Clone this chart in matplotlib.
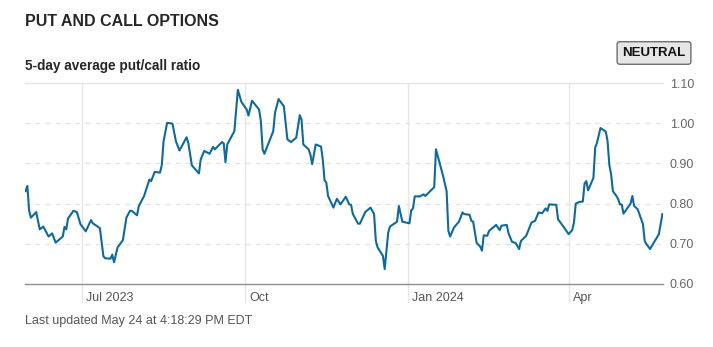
import matplotlib
matplotlib.use("Agg")
import matplotlib.pyplot as plt
import matplotlib.transforms as mtransforms
import pandas as pd

# 5-day average put/call ratio
dates = [
    "2023-05-30", "2023-05-31", "2023-06-01", "2023-06-02", "2023-06-04", "2023-06-05",
    "2023-06-07", "2023-06-09", "2023-06-12", "2023-06-14", "2023-06-16", "2023-06-20",
    "2023-06-21", "2023-06-22", "2023-06-23", "2023-06-26", "2023-06-28", "2023-06-30",
    "2023-07-03", "2023-07-06", "2023-07-07", "2023-07-11", "2023-07-13", "2023-07-14",
    "2023-07-17", "2023-07-18", "2023-07-19", "2023-07-21", "2023-07-24", "2023-07-26",
    "2023-07-28", "2023-07-29", "2023-08-01", "2023-08-02", "2023-08-05", "2023-08-08",
    "2023-08-09", "2023-08-11", "2023-08-14", "2023-08-15", "2023-08-16", "2023-08-18",
    "2023-08-21", "2023-08-23", "2023-08-25", "2023-08-29", "2023-08-30", "2023-09-01",
    "2023-09-05", "2023-09-06", "2023-09-08", "2023-09-11", "2023-09-13", "2023-09-14",
    "2023-09-18", "2023-09-19", "2023-09-20", "2023-09-21", "2023-09-25", "2023-09-27",
    "2023-09-29", "2023-10-02", "2023-10-03", "2023-10-05", "2023-10-09", "2023-10-10",
    "2023-10-11", "2023-10-12", "2023-10-17", "2023-10-18", "2023-10-20", "2023-10-23",
    "2023-10-25", "2023-10-27", "2023-10-30", "2023-11-01", "2023-11-02", "2023-11-03",
    "2023-11-06", "2023-11-07", "2023-11-08", "2023-11-10", "2023-11-13", "2023-11-14",
    "2023-11-15", "2023-11-16", "2023-11-17", "2023-11-20", "2023-11-22", "2023-11-24",
    "2023-11-27", "2023-11-29", "2023-11-30", "2023-12-01", "2023-12-04", "2023-12-05",
    "2023-12-08", "2023-12-11", "2023-12-13", "2023-12-14", "2023-12-15", "2023-12-18",
    "2023-12-19", "2023-12-21", "2023-12-22", "2023-12-26", "2023-12-27", "2023-12-29",
    "2024-01-02", "2024-01-03", "2024-01-04", "2024-01-05", "2024-01-08", "2024-01-10",
    "2024-01-11", "2024-01-16", "2024-01-17", "2024-01-21", "2024-01-23", "2024-01-24",
    "2024-01-25", "2024-01-27", "2024-01-28", "2024-01-30", "2024-02-01", "2024-02-02",
    "2024-02-05", "2024-02-06", "2024-02-07", "2024-02-09", "2024-02-11", "2024-02-12",
    "2024-02-13", "2024-02-15", "2024-02-16", "2024-02-20", "2024-02-22", "2024-02-23",
    "2024-02-26", "2024-02-27", "2024-02-29", "2024-03-02", "2024-03-04", "2024-03-05",
    "2024-03-08", "2024-03-11", "2024-03-13", "2024-03-15", "2024-03-17", "2024-03-19",
    "2024-03-20", "2024-03-21", "2024-03-25", "2024-03-26", "2024-03-28", "2024-03-29",
    "2024-04-01", "2024-04-03", "2024-04-04", "2024-04-05", "2024-04-07", "2024-04-09",
    "2024-04-10", "2024-04-11", "2024-04-12", "2024-04-15", "2024-04-16", "2024-04-17",
    "2024-04-19", "2024-04-22", "2024-04-23", "2024-04-24", "2024-04-25", "2024-04-26",
    "2024-04-28", "2024-04-29", "2024-04-30", "2024-05-01", "2024-05-02", "2024-05-06",
    "2024-05-07", "2024-05-08", "2024-05-10", "2024-05-13", "2024-05-14", "2024-05-15",
    "2024-05-17", "2024-05-22", "2024-05-24",
]
ratio = [
    0.831, 0.844, 0.782, 0.765, 0.774, 0.779,
    0.736, 0.743, 0.718, 0.726, 0.703, 0.718,
    0.742, 0.736, 0.763, 0.782, 0.779, 0.749,
    0.731, 0.759, 0.751, 0.739, 0.669, 0.664,
    0.663, 0.673, 0.654, 0.691, 0.709, 0.765,
    0.782, 0.782, 0.771, 0.794, 0.819, 0.860,
    0.856, 0.879, 0.877, 0.896, 0.955, 1.001,
    0.999, 0.955, 0.932, 0.965, 0.951, 0.895,
    0.875, 0.910, 0.931, 0.924, 0.941, 0.935,
    0.953, 0.950, 0.903, 0.947, 0.980, 1.083,
    1.053, 1.034, 1.019, 1.056, 1.034, 1.005,
    0.935, 0.924, 0.980, 1.026, 1.060, 1.042,
    0.960, 0.953, 0.964, 1.020, 1.009, 0.947,
    0.935, 0.922, 0.898, 0.947, 0.942, 0.910,
    0.858, 0.852, 0.819, 0.790, 0.812, 0.798,
    0.817, 0.798, 0.797, 0.774, 0.750, 0.750,
    0.779, 0.790, 0.774, 0.707, 0.691, 0.670,
    0.637, 0.728, 0.743, 0.755, 0.794, 0.755,
    0.751, 0.783, 0.788, 0.818, 0.818, 0.823,
    0.819, 0.841, 0.935, 0.869, 0.831, 0.732,
    0.718, 0.739, 0.745, 0.755, 0.778, 0.774,
    0.772, 0.757, 0.755, 0.702, 0.693, 0.683,
    0.721, 0.720, 0.732, 0.747, 0.734, 0.745,
    0.747, 0.726, 0.705, 0.702, 0.687, 0.707,
    0.720, 0.753, 0.757, 0.778, 0.776, 0.788,
    0.782, 0.798, 0.797, 0.761, 0.749, 0.743,
    0.724, 0.734, 0.753, 0.800, 0.804, 0.805,
    0.850, 0.856, 0.833, 0.864, 0.939, 0.951,
    0.988, 0.979, 0.955, 0.896, 0.873, 0.831,
    0.819, 0.811, 0.798, 0.798, 0.775, 0.800,
    0.819, 0.794, 0.786, 0.749, 0.707, 0.699,
    0.687, 0.724, 0.774,
]

month_ticks = ["2023-07-01", "2023-10-01", "2024-01-01", "2024-04-01"]
month_labels = ["Jul 2023", "Oct", "Jan 2024", "Apr"]
y_ticks = [0.60, 0.70, 0.80, 0.90, 1.00, 1.10]

df = pd.DataFrame({"date": pd.to_datetime(dates), "ratio": ratio})
ticks = pd.to_datetime(month_ticks)

plt.rcParams["font.family"] = ["Liberation Sans", "DejaVu Sans"]

fig = plt.figure(figsize=(7.13, 3.47), dpi=100)
ax = fig.add_axes([25 / 713, 1 - 284 / 347, 638 / 713, 201 / 347])

ax.plot(df["date"], df["ratio"], color="#0f6a9b", linewidth=1.5, zorder=3)

ax.set_xlim(df["date"].iloc[0] - pd.Timedelta(hours=8),
            df["date"].iloc[-1] + pd.Timedelta(hours=8))
ax.set_ylim(0.60, 1.10)

# y axis on the right, dashed light grid
ax.yaxis.tick_right()
ax.set_yticks(y_ticks)
ax.set_yticklabels([f"{v:.2f}" for v in y_ticks])
ax.tick_params(axis="y", length=0, pad=5, labelsize=9, labelcolor="#666666")
ax.grid(axis="y", color="#e2e2e2", linestyle=(0, (4, 4)), linewidth=0.9)

for side in ["left", "right"]:
    ax.spines[side].set_visible(False)
ax.spines["top"].set_color("#e6e6e6")
ax.spines["top"].set_linewidth(0.9)
ax.spines["bottom"].set_color("#8f8f8f")
ax.spines["bottom"].set_linewidth(1.0)

# month lines reaching a little below the axis
for t in ticks:
    ax.axvline(t, ymin=-0.09, ymax=1, color="#e6e6e6", linewidth=1.0,
               clip_on=False, zorder=1)

ax.set_xticks(ticks)
ax.set_xticklabels(month_labels)
ax.tick_params(axis="x", length=0, pad=6, labelsize=9, labelcolor="#555555")
shift = mtransforms.ScaledTranslation(3 / 72, 0, fig.dpi_scale_trans)
for lab in ax.get_xticklabels():
    lab.set_horizontalalignment("left")
    lab.set_transform(lab.get_transform() + shift)

fig.text(25 / 713, 1 - 22 / 347, "PUT AND CALL OPTIONS", fontsize=11.5,
         fontweight="bold", color="#262626", va="center", ha="left")
fig.text(25 / 713, 1 - 66 / 347, "5-day average put/call ratio", fontsize=9.8,
         fontweight="bold", color="#262626", va="center", ha="left")
fig.text(654 / 713, 1 - 53 / 347, "NEUTRAL", fontsize=9.5, fontweight="bold",
         color="#111111", va="center", ha="center",
         bbox=dict(boxstyle="round,pad=0.4,rounding_size=0.2",
                   facecolor="#e6e6e6", edgecolor="#6f6f6f", linewidth=1.0))
fig.text(25 / 713, 1 - 321 / 347, "Last updated May 24 at 4:18:29 PM EDT",
         fontsize=9, color="#555555", va="center", ha="left")

fig.savefig("out.png", dpi=100)
